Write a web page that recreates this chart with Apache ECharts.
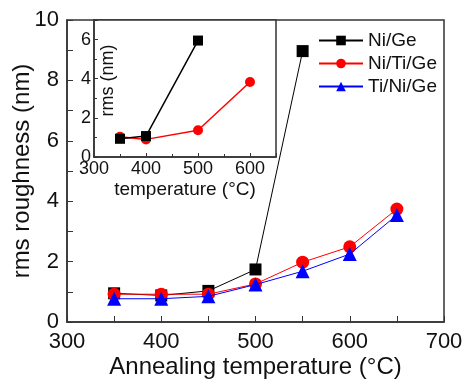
<!DOCTYPE html>
<html lang="en">
<head>
    <meta charset="UTF-8">
    <title>rms roughness</title>
    <style>
        html, body { margin: 0; padding: 0; background: #fff; }
        #chart { width: 464px; height: 379px; }
    </style>
</head>
<body>
<div id="chart"></div>
<script src="https://cdn.jsdelivr.net/npm/echarts@6/dist/echarts.min.js"></script>
<script>
    // main plot data
    var temps = [350, 400, 450, 500, 550];
    var tempsFull = [350, 400, 450, 500, 550, 600, 650];
    var niGe = [0.95, 0.88, 1.03, 1.74, 8.97];
    var niTiGe = [0.92, 0.92, 0.92, 1.26, 1.98, 2.49, 3.74];
    var tiNiGe = [0.77, 0.77, 0.85, 1.24, 1.68, 2.25, 3.54];

    // inset data
    var insetTempsNiGe = [350, 400, 500];
    var insetNiGe = [0.93, 1.07, 5.95];
    var insetTempsNiTiGe = [350, 400, 500, 600];
    var insetNiTiGe = [1.03, 0.9, 1.37, 3.83];

    var names = ['Ni/Ge', 'Ni/Ti/Ge', 'Ti/Ni/Ge'];
    var colors = ['#000000', '#ff0000', '#0000ff'];

    function pairs(xs, ys) {
        return xs.map(function (x, i) { return [x, ys[i]]; });
    }

    var font = 'Liberation Sans, Arial, sans-serif';
    var axisCol = '#333333';

    var chart = echarts.init(document.getElementById('chart'));

    var option = {
        animation: false,
        textStyle: { fontFamily: font },
        legend: {
            data: names,
            left: 313,
            top: 26,
            orient: 'vertical',
            itemWidth: 44,
            itemHeight: 12,
            itemGap: 4,
            textStyle: { fontSize: 19, color: '#111', fontFamily: font }
        },
        grid: [
            { left: 67, top: 20, width: 377, height: 302, outerBoundsMode: 'none', show: true, borderColor: axisCol, borderWidth: 1.5, backgroundColor: '#fff' },
            { left: 94, top: 20, width: 182, height: 137, outerBoundsMode: 'none', show: true, borderColor: axisCol, borderWidth: 1.5, backgroundColor: '#fff' }
        ],
        xAxis: [
            {
                gridIndex: 0, type: 'value', min: 300, max: 700, interval: 100,
                name: 'Annealing temperature (\u00b0C)', nameLocation: 'middle', nameGap: 33,
                nameMoveOverlap: false,
                nameTextStyle: { fontSize: 24, color: '#111' },
                axisLine: { lineStyle: { color: axisCol, width: 1.5 } },
                axisTick: { inside: true, length: 6, lineStyle: { color: axisCol } },
                minorTick: { show: true, splitNumber: 2, length: 6, lineStyle: { color: axisCol } },
                axisLabel: { fontSize: 22, color: '#111', margin: 9 },
                splitLine: { show: false }
            },
            {
                gridIndex: 1, type: 'value', min: 300, max: 650, interval: 100,
                name: 'temperature (\u00b0C)', nameLocation: 'middle', nameGap: 23,
                nameMoveOverlap: false,
                nameTextStyle: { fontSize: 19, color: '#111' },
                axisLine: { lineStyle: { color: axisCol, width: 1.5 } },
                axisTick: { inside: true, length: 4, lineStyle: { color: axisCol } },
                minorTick: { show: true, splitNumber: 2, length: 3, lineStyle: { color: axisCol } },
                axisLabel: { fontSize: 18, color: '#111', margin: 3, showMaxLabel: false },
                splitLine: { show: false }
            }
        ],
        yAxis: [
            {
                gridIndex: 0, type: 'value', min: 0, max: 10, interval: 2,
                name: 'rms roughness (nm)', nameLocation: 'middle', nameGap: 33,
                nameMoveOverlap: false,
                nameTextStyle: { fontSize: 24, color: '#111' },
                axisLine: { lineStyle: { color: axisCol, width: 1.5 } },
                axisTick: { inside: true, length: 6, lineStyle: { color: axisCol } },
                minorTick: { show: true, splitNumber: 2, length: 6, lineStyle: { color: axisCol } },
                axisLabel: { fontSize: 22, color: '#111', margin: 8 },
                splitLine: { show: false }
            },
            {
                gridIndex: 1, type: 'value', min: 0, max: 7, interval: 2,
                name: 'rms (nm)', nameLocation: 'middle', nameGap: -23,
                nameMoveOverlap: false,
                nameTextStyle: { fontSize: 18, color: '#111', padding: [0, 0, 0, 16] },
                axisLine: { lineStyle: { color: axisCol, width: 1.5 } },
                axisTick: { inside: true, length: 4, lineStyle: { color: axisCol } },
                minorTick: { show: true, splitNumber: 2, length: 3, lineStyle: { color: axisCol } },
                axisLabel: { fontSize: 18, color: '#111', margin: 3, showMaxLabel: false },
                splitLine: { show: false }
            }
        ],
        series: [
            {
                name: names[0], type: 'line', xAxisIndex: 0, yAxisIndex: 0,
                data: pairs(temps, niGe), symbol: 'rect', symbolSize: 12,
                itemStyle: { color: colors[0] }, lineStyle: { color: colors[0], width: 1 }, z: 3
            },
            {
                name: names[1], type: 'line', xAxisIndex: 0, yAxisIndex: 0,
                data: pairs(tempsFull, niTiGe), symbol: 'circle', symbolSize: 13,
                itemStyle: { color: colors[1] }, lineStyle: { color: colors[1], width: 1 }, z: 4
            },
            {
                name: names[2], type: 'line', xAxisIndex: 0, yAxisIndex: 0,
                data: pairs(tempsFull, tiNiGe), symbol: 'triangle', symbolSize: 14,
                itemStyle: { color: colors[2] }, lineStyle: { color: colors[2], width: 1 }, z: 5
            },
            {
                name: names[1], type: 'line', xAxisIndex: 1, yAxisIndex: 1,
                data: pairs(insetTempsNiTiGe, insetNiTiGe), symbol: 'circle', symbolSize: 10,
                itemStyle: { color: colors[1] }, lineStyle: { color: colors[1], width: 1.5 }, z: 6
            },
            {
                name: names[0], type: 'line', xAxisIndex: 1, yAxisIndex: 1,
                data: pairs(insetTempsNiGe, insetNiGe), symbol: 'rect', symbolSize: 10,
                itemStyle: { color: colors[0] }, lineStyle: { color: colors[0], width: 1.5 }, z: 7
            }
        ]
    };

    chart.setOption(option);
</script>
</body>
</html>
